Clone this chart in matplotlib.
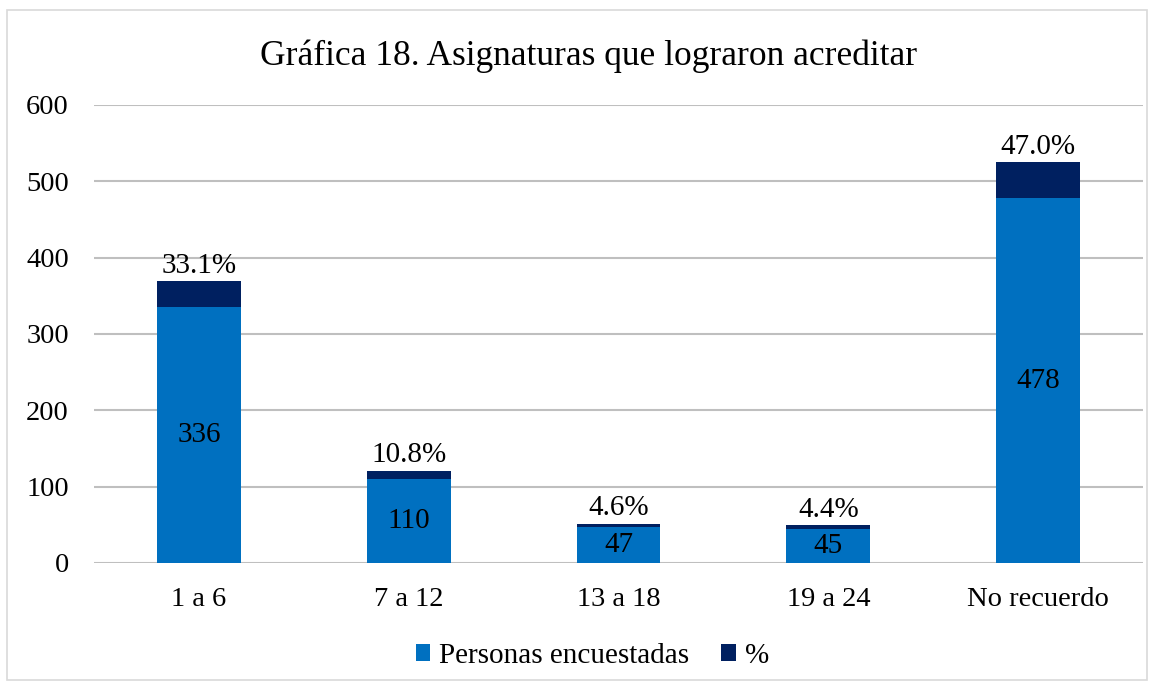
import matplotlib.pyplot as plt
from matplotlib.patches import Rectangle

categories = ["1 a 6", "7 a 12", "13 a 18", "19 a 24", "No recuerdo"]
personas = [336, 110, 47, 45, 478]
porcentaje = [33.1, 10.8, 4.6, 4.4, 47.0]
yticks = [0, 100, 200, 300, 400, 500, 600]

plt.rcParams['font.family'] = ['Liberation Serif', 'DejaVu Serif']

fig = plt.figure(figsize=(11.56, 6.87), dpi=100)
ax = fig.add_axes([0.0813, 0.1805, 0.9075, 0.6667])

blue = '#0070C0'
navy = '#002060'
x = list(range(len(categories)))
b1 = ax.bar(x, personas, width=0.4, color=blue, label='Personas encuestadas', zorder=3)
b2 = ax.bar(x, porcentaje, width=0.4, bottom=personas, color=navy, label='%', zorder=3)

for xi, p, q in zip(x, personas, porcentaje):
    ax.text(xi, p / 2, f"{p}", ha='center', va='center', fontsize=21, color='black', zorder=4)
    ax.text(xi, p + q + 3, f"{q:.1f}%", ha='center', va='bottom', fontsize=21, color='black', zorder=4)

ax.set_xlim(-0.5, len(categories) - 0.5)
ax.set_ylim(0, 600)
ax.set_yticks(yticks)
ax.set_xticks(x)
ax.set_xticklabels(categories)
ax.tick_params(axis='both', length=0, labelsize=20.5)
ax.tick_params(axis='y', pad=18)
ax.tick_params(axis='x', pad=17)
ax.grid(axis='y', color='#BFBFBF', linewidth=1.5, zorder=0)
for s in ax.spines.values():
    s.set_visible(False)

fig.text(0.509, 0.918, "Gráfica 18. Asignaturas que lograron acreditar", ha='center', va='center', fontsize=25.5)

fig.legend(handles=[b1, b2], loc='center', bbox_to_anchor=(0.5125, 0.045), ncol=2, frameon=False,
           fontsize=21, handlelength=0.5, handleheight=0.5, handletextpad=0.3, columnspacing=1.1)

fig.add_artist(Rectangle((7 / 1156, 7 / 687), 1140 / 1156, 670 / 687, transform=fig.transFigure,
                         fill=False, edgecolor='#D9D9D9', linewidth=1.2))

fig.savefig('out.png', dpi=100)
